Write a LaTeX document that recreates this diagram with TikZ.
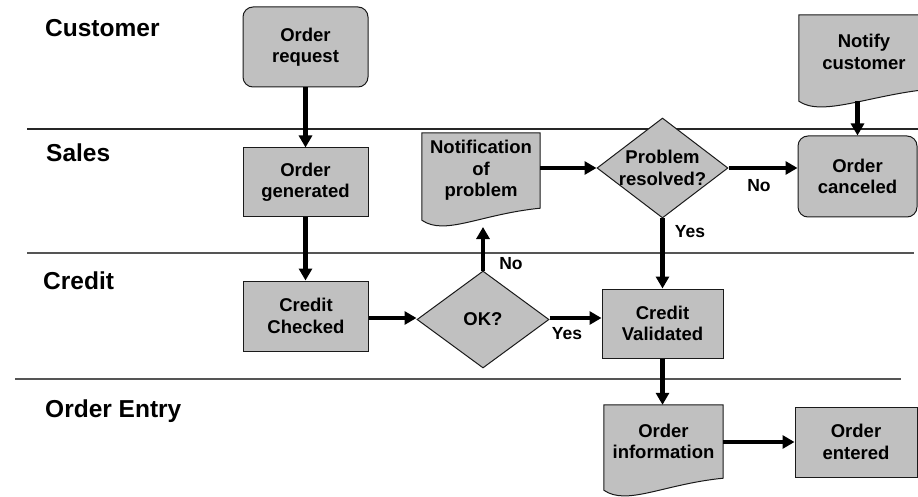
\documentclass[tikz,border=0pt]{standalone}
\usepackage{fontspec}
\setmainfont{Liberation Sans}
\usetikzlibrary{shapes.geometric,arrows.meta,calc}
\pgfdeclarelayer{background}
\pgfsetlayers{background,main}

\definecolor{boxgray}{HTML}{C0C0C0}
\definecolor{edgeline}{HTML}{1A1A1A}
\definecolor{lanegray}{HTML}{555555}

\tikzset{
  every node/.style={font=\fontsize{18.5}{21.5}\selectfont\bfseries, align=center, text=black},
  box/.style={draw=edgeline, fill=boxgray, line width=1pt, inner sep=0pt},
  stepbox/.style={box, rectangle},
  roundbox/.style={box, rectangle, rounded corners=10pt},
  decision/.style={box, diamond},
  docnode/.style={rectangle, inner sep=0pt},
  docline/.style={draw=edgeline, fill=boxgray, line width=1pt},
  flow/.style={line width=4.5pt, -{Triangle[length=12pt,width=13pt]}},
  lane/.style={line width=1.8pt, draw=lanegray},
  lanelabel/.style={anchor=base west, inner sep=0pt, font=\fontsize{24.5}{27}\selectfont\bfseries},
  branch/.style={font=\fontsize{17.5}{20}\selectfont\bfseries},
}

% document symbol: flat top, wavy bottom, drawn behind node #1
\newcommand\docshape[1]{%
  \begin{pgfonlayer}{background}
    \path[docline] ($(#1.south west)+(0,12)$) -- (#1.north west) -- (#1.north east)
      -- (#1.south east) .. controls +(-60,6) and +(23,16) .. ($(#1.south west)+(0,12)$)
      -- cycle;
  \end{pgfonlayer}}

\begin{document}
\begin{tikzpicture}[x=1pt, y=-1pt]
  \useasboundingbox (0,0) rectangle (918,497);
  \clip (0,0) rectangle (918,497);

  % swim lane separators
  \draw[lane, line width=1.5pt, draw=black!85] (27,129) -- (918,129);
  \draw[lane] (27,253) -- (914,253);
  \draw[lane] (15,379) -- (901,379);

  % lane titles
  \node[lanelabel] (lcust) at (45,37) {Customer};
  \node[lanelabel] (lsales) at (46,162) {Sales};
  \node[lanelabel] (lcredit) at (43,289) {Credit};
  \node[lanelabel] (lentry) at (45,417) {Order Entry};

  % process steps
  \node[roundbox, minimum width=125pt, minimum height=80pt] (req) at (305.5,47) {Order\\request};
  \node[stepbox, minimum width=125pt, minimum height=69pt] (gen) at (305.5,182.5) {Order\\generated};
  \node[stepbox, minimum width=125pt, minimum height=70pt] (chk) at (306,316) {Credit\\Checked};
  \node[decision, minimum width=132pt, minimum height=97pt,
        label={[align=center]center:OK?}] (ok) at (483,319.5) {};
  \node[decision, minimum width=131pt, minimum height=100pt,
        label={[align=center]center:Problem\\resolved?}] (pr) at (662.5,168) {};
  \node[stepbox, minimum width=121pt, minimum height=69pt] (val) at (662.5,323.5) {Credit\\Validated};
  \node[roundbox, minimum width=119pt, minimum height=81pt] (cancel) at (857.5,176.5) {Order\\canceled};
  \node[stepbox, minimum width=122pt, minimum height=70pt] (entered) at (856,442) {Order\\entered};

  % documents
  \node[docnode, minimum width=118pt, minimum height=75pt] (notif) at (481,170.5) {Notification\\of\\problem};
  \docshape{notif}
  \node[docnode, minimum width=130pt, minimum height=74pt] (notify) at (864,52) {Notify\\customer};
  \docshape{notify}
  \node[docnode, minimum width=119pt, minimum height=73pt] (info) at (663.5,441.5) {Order\\information};
  \docshape{info}

  % free ends at the wavy document edges
  \coordinate (notifin) at (483,227);
  \coordinate (notifyout) at (857.5,101);

  % flow
  \draw[flow] (req) -- (gen);
  \draw[flow] (gen.south) -- (gen.south |- chk.north);
  \draw[flow] (chk.east |- 0,318) -- (ok.west |- 0,318);
  \draw[flow] (ok.north) -- (notifin);
  \draw[flow] (ok.east |- 0,318) -- (val.west |- 0,318);
  \draw[flow] (notif.east |- pr.west) -- (pr.west);
  \draw[flow] (pr.east) -- (pr.east -| cancel.west);
  \draw[flow] (pr.south) -- (val.north);
  \draw[flow] (notifyout) -- (cancel.north);
  \draw[flow] (val.south) -- (val.south |- info.north);
  \draw[flow] (info.east |- entered.west) -- (entered.west);

  % branch labels
  \node[branch] (okno) at (511,264) {No};
  \node[branch] (okyes) at (567,334) {Yes};
  \node[branch] (prno) at (759,186) {No};
  \node[branch] (pryes) at (690,232) {Yes};
\end{tikzpicture}
\end{document}
